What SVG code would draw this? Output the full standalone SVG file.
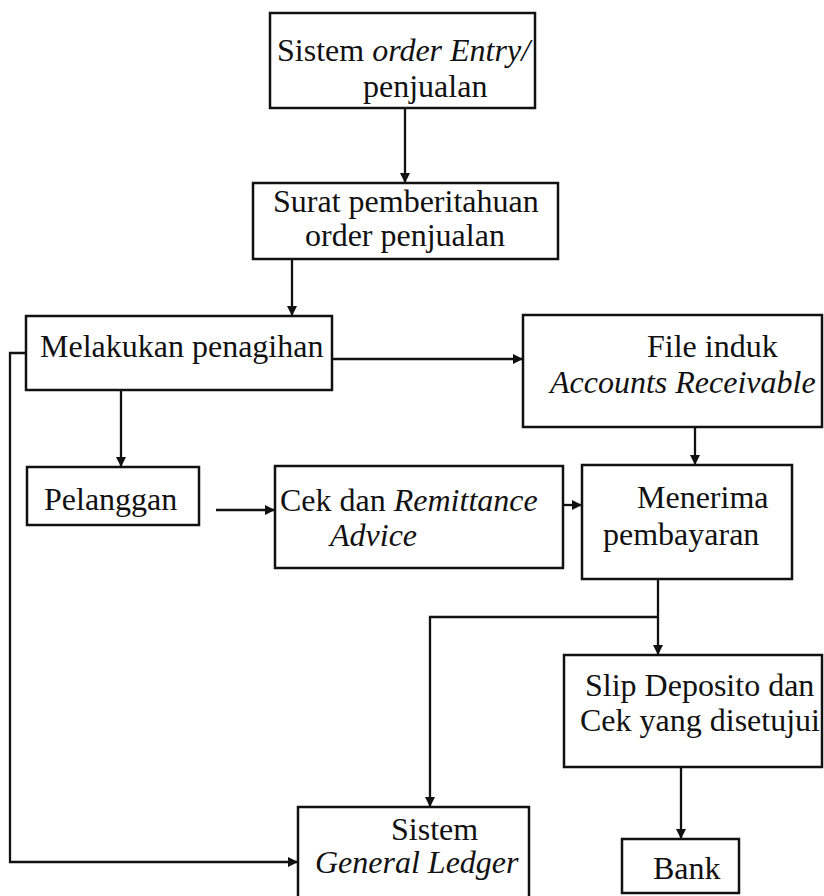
<svg xmlns="http://www.w3.org/2000/svg" width="824" height="896" viewBox="0 0 824 896">
  <style>
    .box { fill: #ffffff; stroke: #111111; stroke-width: 2.5; }
    .lbl { font-family: "Liberation Serif", "Times New Roman", serif; font-size: 32px; fill: #111111; }
    .it { font-style: italic; }
    .wire { fill: none; stroke: #111111; stroke-width: 2.3; }
    .arr { marker-end: url(#head); }
  </style>
  <defs>
    <marker id="head" markerUnits="userSpaceOnUse" markerWidth="10" markerHeight="10" refX="10" refY="5" orient="auto">
      <path d="M0,0 L10,5 L0,10 z" fill="#111111"/>
    </marker>
  </defs>
  <rect width="824" height="896" fill="#ffffff"/>

  <g id="connectors">
    <path class="wire arr" d="M405,108 V183"/>
    <path class="wire arr" d="M292,259 V316"/>
    <path class="wire arr" d="M332,359 H523"/>
    <path class="wire arr" d="M121,390 V467"/>
    <path class="wire arr" d="M26,353 H10 V862 H298"/>
    <path class="wire arr" d="M695,427 V465"/>
    <path class="wire arr" d="M216,510 H275"/>
    <path class="wire arr" d="M563,505 H582"/>
    <path class="wire arr" d="M658,579 V655"/>
    <path class="wire arr" d="M658,617 H430 V807"/>
    <path class="wire arr" d="M681,767 V839"/>
  </g>

  <g id="order-entry">
    <rect class="box" x="270" y="13" width="265" height="95"/>
    <text class="lbl" x="277" y="61">Sistem <tspan class="it">order Entry/</tspan></text>
    <text class="lbl" x="363" y="97">penjualan</text>
  </g>

  <g id="surat-order">
    <rect class="box" x="253" y="183" width="305" height="76"/>
    <text class="lbl" x="273" y="212">Surat pemberitahuan</text>
    <text class="lbl" x="305" y="246">order penjualan</text>
  </g>

  <g id="penagihan">
    <rect class="box" x="26" y="316" width="306" height="74"/>
    <text class="lbl" x="40" y="357">Melakukan penagihan</text>
  </g>

  <g id="file-induk">
    <rect class="box" x="523" y="315" width="299" height="112"/>
    <text class="lbl" x="647" y="357">File induk</text>
    <text class="lbl it" x="550" y="393">Accounts Receivable</text>
  </g>

  <g id="pelanggan">
    <rect class="box" x="27" y="467" width="172" height="58"/>
    <text class="lbl" x="44" y="510">Pelanggan</text>
  </g>

  <g id="cek-remittance">
    <rect class="box" x="275" y="466" width="288" height="102"/>
    <text class="lbl" x="280" y="511">Cek dan <tspan class="it">Remittance</tspan></text>
    <text class="lbl it" x="330" y="546">Advice</text>
  </g>

  <g id="menerima">
    <rect class="box" x="582" y="465" width="210" height="114"/>
    <text class="lbl" x="637" y="508">Menerima</text>
    <text class="lbl" x="603" y="545">pembayaran</text>
  </g>

  <g id="slip-deposito">
    <rect class="box" x="564" y="655" width="258" height="112"/>
    <text class="lbl" x="585" y="696">Slip Deposito dan</text>
    <text class="lbl" x="580" y="731">Cek yang disetujui</text>
  </g>

  <g id="general-ledger">
    <rect class="box" x="298" y="807" width="231" height="95"/>
    <text class="lbl" x="391" y="840">Sistem</text>
    <text class="lbl it" x="315" y="873">General Ledger</text>
  </g>

  <g id="bank">
    <rect class="box" x="622" y="839" width="117" height="54"/>
    <text class="lbl" x="653" y="879">Bank</text>
  </g>
</svg>
